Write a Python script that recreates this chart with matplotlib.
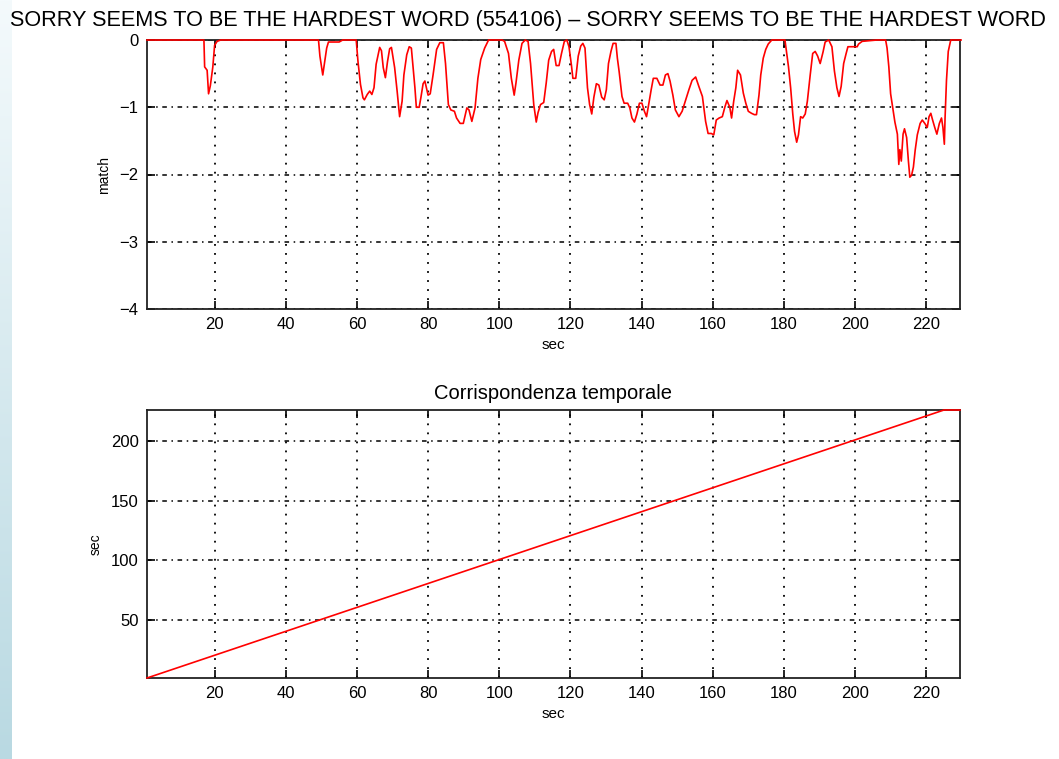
import numpy as np
import matplotlib
matplotlib.use("Agg")
import matplotlib.pyplot as plt

# dati: curva di match (secondi, valore)
match_sec = [1, 17.0, 17.2, 17.9, 18.3, 18.8, 19.5, 20.0, 20.7, 21.7,
             49.2, 49.6, 50.4, 51.0, 51.5, 52.0, 55.0, 56.0, 59.8,
             60.3, 61.0, 61.7, 62.1, 62.9, 63.6, 64.2, 64.8, 65.4, 66.4, 66.9, 67.4, 68.0, 68.6, 69.2, 69.7,
             70.6, 71.3, 72.0, 72.7, 73.2, 74.0, 74.7, 75.3, 75.8, 76.3, 76.7, 77.5, 78.0, 78.6,
             79.1, 80.0, 80.6, 81.4, 82.4, 83.3, 84.3, 84.9, 85.7, 86.4, 87.4, 88.0, 89.0, 89.9,
             90.9, 91.5, 92.3, 93.2, 94.0, 94.8, 95.9, 97.0, 100.8, 101.5, 102.6, 103.4, 104.2, 104.7,
             105.5, 106.4, 107.3, 108.1, 108.8, 109.7, 110.4, 110.9, 111.6, 112.5, 113.2, 113.9, 114.7,
             115.3, 116.0, 116.8, 117.5, 118.3,
             119.0, 119.6, 120.3, 120.7, 121.5, 122.2, 122.9, 123.5, 124.1, 124.8, 125.4, 126.0, 126.6,
             127.3, 128.0, 128.8, 129.5, 130.1, 130.7, 131.4, 132.0, 132.8, 133.2, 133.7, 134.5, 135.1,
             136.1, 136.7, 137.3, 138.0, 138.7, 139.4, 140.1, 140.8, 141.4, 142.0, 142.7, 143.3, 144.3,
             145.2, 146.0, 146.7, 147.4, 148.0, 148.8, 149.5, 150.5, 151.4, 152.3, 153.3, 154.2, 155.2,
             156.1, 157.1, 158.0,
             158.7, 159.6, 160.3, 161.0, 161.8, 162.7, 163.4, 164.0, 164.8, 165.3, 165.9, 166.5, 167.0,
             167.8, 168.6, 169.3, 170.0, 170.9, 171.7, 172.3, 173.0, 173.5, 174.2, 174.9, 175.6, 176.6,
             180.3, 180.8, 181.3, 181.9, 182.5, 183.0, 183.6, 184.1, 184.7, 185.3, 186.0, 186.6, 187.4,
             188.1, 188.8, 189.5, 190.2, 191.0, 191.6, 192.6, 193.5, 194.2, 194.9, 195.5, 196.1, 196.8,
             197.5, 198.0, 200.6, 201.0, 202.0, 206.2, 208.6, 209.0, 209.5, 210.0, 210.7, 211.2, 211.9,
             212.3, 212.6, 213.0, 213.5, 213.9, 214.5, 215.0, 215.4, 215.9, 216.4, 216.9, 217.5, 218.3,
             218.9, 219.6, 220.3, 220.8, 221.3, 221.8, 222.4, 223.0, 223.7, 224.3, 224.7, 225.1, 225.3,
             225.7, 226.2, 226.9, 229.8]
match_val = [0, 0, -0.40, -0.45, -0.80, -0.68, -0.40, -0.08, -0.02, 0,
             0, -0.24, -0.52, -0.30, -0.12, -0.03, -0.03, 0, 0,
             -0.32, -0.66, -0.86, -0.89, -0.81, -0.76, -0.81, -0.71, -0.36, -0.11, -0.16, -0.41, -0.56, -0.32, -0.13, -0.11,
             -0.41, -0.76, -1.14, -0.91, -0.52, -0.22, -0.10, -0.12, -0.41, -0.71, -1.00, -1.00, -0.85, -0.65,
             -0.61, -0.82, -0.80, -0.52, -0.14, -0.04, -0.04, -0.35, -0.96, -1.04, -1.06, -1.16, -1.24, -1.24,
             -1.01, -1.04, -1.21, -1.01, -0.57, -0.29, -0.12, 0, 0, -0.02, -0.20, -0.57, -0.82, -0.64,
             -0.30, -0.05, 0, -0.02, -0.35, -0.96, -1.22, -1.08, -0.96, -0.93, -0.64, -0.30, -0.17,
             -0.14, -0.38, -0.38, -0.20, -0.02,
             0, -0.10, -0.38, -0.57, -0.57, -0.24, -0.09, -0.05, -0.12, -0.71, -0.96, -1.10, -0.85,
             -0.65, -0.67, -0.85, -0.89, -0.74, -0.35, -0.17, -0.05, -0.05, -0.27, -0.47, -0.84, -0.94,
             -0.94, -1.01, -1.16, -1.22, -1.10, -0.94, -0.94, -1.06, -1.14, -0.96, -0.74, -0.57, -0.57,
             -0.67, -0.67, -0.52, -0.50, -0.61, -0.82, -1.04, -1.14, -1.06, -0.91, -0.74, -0.60, -0.55,
             -0.69, -0.84, -1.21,
             -1.39, -1.39, -1.41, -1.19, -1.16, -1.14, -1.00, -0.90, -1.00, -1.16, -0.91, -0.71, -0.45,
             -0.52, -0.79, -0.94, -1.06, -1.09, -1.11, -1.11, -0.82, -0.52, -0.27, -0.14, -0.06, 0,
             0, -0.20, -0.40, -0.71, -1.10, -1.36, -1.52, -1.41, -1.14, -1.16, -1.10, -0.91, -0.52,
             -0.20, -0.17, -0.24, -0.35, -0.18, -0.03, 0, -0.10, -0.46, -0.71, -0.84, -0.69, -0.35,
             -0.20, -0.10, -0.10, -0.06, -0.02, 0, 0, -0.12, -0.40, -0.80, -1.05, -1.22, -1.40,
             -1.85, -1.63, -1.80, -1.40, -1.32, -1.45, -1.80, -2.04, -2.01, -1.89, -1.64, -1.41, -1.24,
             -1.19, -1.24, -1.30, -1.14, -1.09, -1.19, -1.30, -1.40, -1.24, -1.16, -1.30, -1.55, -1.16,
             -0.60, -0.17, 0, 0]

# corrispondenza temporale
align_x = [1, 225, 229.5]
align_y = [1, 226, 226]

x_ticks = [20, 40, 60, 80, 100, 120, 140, 160, 180, 200, 220]
match_ticks = [0, -1, -2, -3, -4]
sec_ticks = [50, 100, 150, 200]

titolo = "SORRY SEEMS TO BE THE HARDEST WORD (554106) \u2013 SORRY SEEMS TO BE THE HARDEST WORD"

plt.rcParams['font.family'] = ['Liberation Sans', 'DejaVu Sans']

fig = plt.figure(figsize=(10.59, 7.59), dpi=100)

# fascia sfumata a sinistra
bg = fig.add_axes([0, 0, 12 / 1059, 1])
grad = np.linspace(0, 1, 256).reshape(-1, 1)
bg.imshow(grad, aspect='auto', cmap=matplotlib.colors.LinearSegmentedColormap.from_list(
    "strip", ["#f4fafc", "#b9d9e2"]), extent=[0, 1, 0, 1])
bg.axis('off')

ax1 = fig.add_axes([147 / 1059, 1 - 309 / 759, 813 / 1059, 269 / 759])
ax2 = fig.add_axes([147 / 1059, 1 - 678 / 759, 813 / 1059, 268 / 759])


def stile(ax):
    ax.set_axisbelow(True)
    ax.xaxis.grid(True, color='black', linestyle=(0, (1, 4)), linewidth=1.3)
    ax.yaxis.grid(True, color='black', linestyle=(0, (3, 3, 1, 3)), linewidth=1.1)
    ax.tick_params(direction='in', length=6, width=1.2, top=True, right=True,
                   labelsize=12, pad=6)
    for s in ax.spines.values():
        s.set_linewidth(1.3)
        s.set_color('#222222')


ax1.plot(match_sec, match_val, color='red', linewidth=1.2, clip_on=False, zorder=3)
ax1.set_xlim(1, 229.5)
ax1.set_ylim(-4, 0)
ax1.set_xticks(x_ticks)
ax1.set_yticks(match_ticks)
ax1.set_xlabel("sec", fontsize=11, labelpad=4)
ax1.set_ylabel("match", fontsize=10, labelpad=6)
stile(ax1)

ax2.plot(align_x, align_y, color='red', linewidth=1.2, clip_on=False, zorder=3)
ax2.set_xlim(1, 229.5)
ax2.set_ylim(1, 226)
ax2.set_xticks(x_ticks)
ax2.set_yticks(sec_ticks)
ax2.set_xlabel("sec", fontsize=11, labelpad=4)
ax2.set_ylabel("sec", fontsize=10, labelpad=6)
ax2.set_title("Corrispondenza temporale", fontsize=14.5, pad=8)
stile(ax2)

fig.text(10 / 1059, 1 - 26 / 759, titolo, fontsize=15.6, ha='left', va='baseline')

plt.savefig("out.png", dpi=100)
